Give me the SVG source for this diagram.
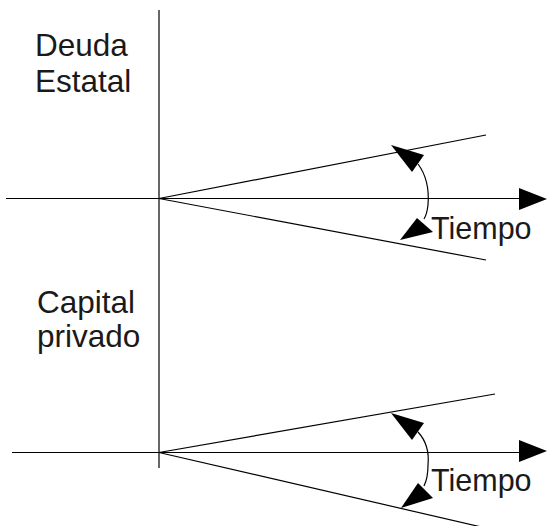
<svg xmlns="http://www.w3.org/2000/svg" width="547" height="526" viewBox="0 0 547 526">
<style>
.ln{stroke:#000;stroke-width:1.2;fill:none}
.ah{fill:#000;stroke:none}
.t{font-family:"Liberation Sans",Arial,sans-serif;font-size:31.5px;fill:#1a1a1a}
.tt{font-family:"Liberation Sans",Arial,sans-serif;font-size:30.5px;fill:#1a1a1a}
</style>
<rect width="547" height="526" fill="#fff"/>
<g id="connectors">
<line class="ln" x1="159" y1="10" x2="159" y2="468"/>
<line class="ln" x1="6" y1="198.5" x2="522" y2="198.5"/>
<polygon class="ah" points="547,199 519,188 519,210"/>
<line class="ln" x1="159" y1="198.5" x2="486" y2="135"/>
<line class="ln" x1="159" y1="198.5" x2="486" y2="260"/>
<path class="ln" d="M418,164 Q430,180 428,205 Q427,214 424,219"/>
<polygon class="ah" points="391,145 424,155 412,172"/>
<polygon class="ah" points="400,240 417,218 433,232"/>
<line class="ln" x1="12" y1="452.5" x2="522" y2="452.5"/>
<polygon class="ah" points="547,451 519,440 519,462"/>
<line class="ln" x1="159" y1="452.5" x2="495" y2="394"/>
<line class="ln" x1="159" y1="452.5" x2="490" y2="529"/>
<path class="ln" d="M418,432 Q430,445 428,465 Q428,478 424,486"/>
<polygon class="ah" points="391,413 424,423 412,440"/>
<polygon class="ah" points="401,508 418,483 433,498"/>
</g>
<g id="label-deuda"><text class="t" x="35" y="56">Deuda</text><text class="t" x="35" y="92">Estatal</text></g>
<g id="label-capital"><text class="t" x="37" y="313">Capital</text><text class="t" x="37" y="347">privado</text></g>
<g id="label-tiempo1"><text class="tt" x="431" y="239">Tiempo</text></g>
<g id="label-tiempo2"><text class="tt" x="431" y="491">Tiempo</text></g>
</svg>
